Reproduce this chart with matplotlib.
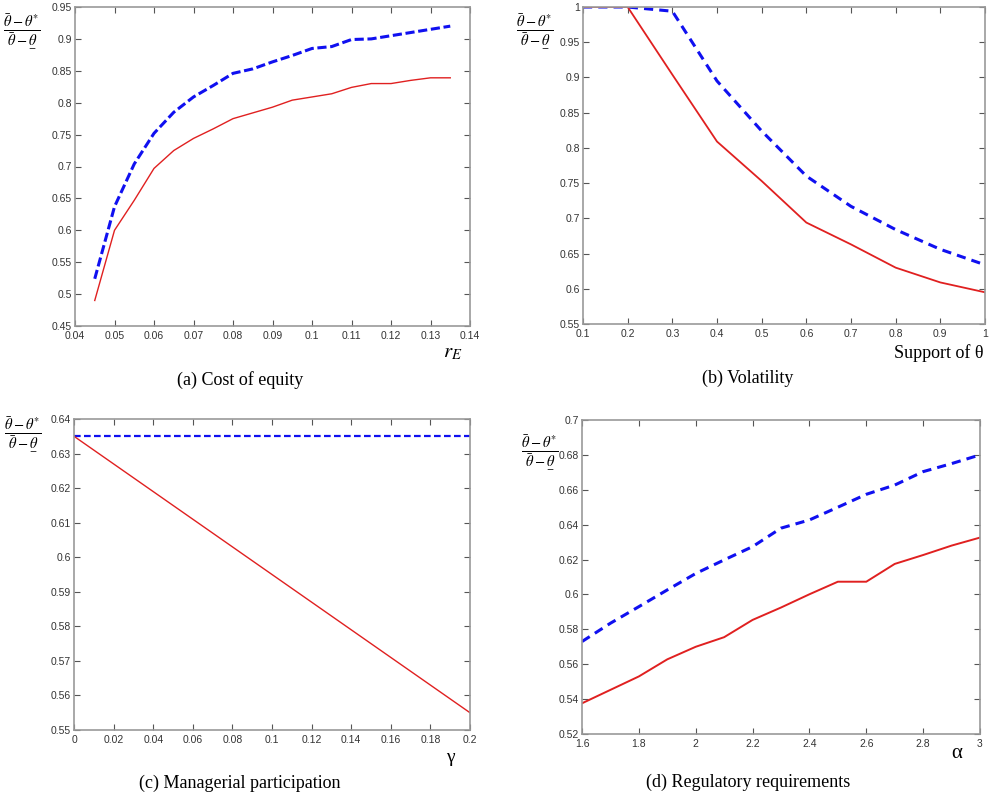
import matplotlib
matplotlib.use("Agg")
import matplotlib.pyplot as plt

plt.rcParams['font.family'] = ['Liberation Sans', 'DejaVu Sans']
plt.rcParams['mathtext.fontset'] = 'stix'

# (a) cost of equity
r_e = [0.045, 0.05, 0.055, 0.06, 0.065, 0.07, 0.075, 0.08, 0.085, 0.09,
       0.095, 0.1, 0.105, 0.11, 0.115, 0.12, 0.125, 0.13, 0.135]
a_blue = [0.524, 0.637, 0.704, 0.752, 0.785, 0.809, 0.827, 0.846, 0.853, 0.864,
          0.874, 0.885, 0.888, 0.899, 0.900, 0.905, 0.910, 0.915, 0.920]
a_red = [0.490, 0.600, 0.647, 0.697, 0.725, 0.744, 0.759, 0.775, 0.784, 0.793,
         0.804, 0.809, 0.814, 0.824, 0.830, 0.830, 0.835, 0.839, 0.839]

# (b) volatility
support = [0.1, 0.2, 0.3, 0.4, 0.5, 0.6, 0.7, 0.8, 0.9, 1.0]
b_blue = [1.0, 1.0, 0.994, 0.895, 0.824, 0.760, 0.717, 0.684, 0.656, 0.634]
b_red = [1.0, 1.0, 0.904, 0.809, 0.753, 0.694, 0.663, 0.630, 0.609, 0.595]

# (c) managerial participation
gamma = [0, 0.02, 0.04, 0.06, 0.08, 0.1, 0.12, 0.14, 0.16, 0.18, 0.2]
c_blue = [0.635] * 11
c_red = [0.635, 0.627, 0.619, 0.611, 0.603, 0.595, 0.587, 0.579, 0.571, 0.563, 0.555]

# (d) regulatory requirements
alpha = [1.6, 1.7, 1.8, 1.9, 2.0, 2.1, 2.2, 2.3, 2.4, 2.5, 2.6, 2.7, 2.8, 2.9, 3.0]
d_blue = [0.573, 0.5835, 0.593, 0.6026, 0.612, 0.6198, 0.6274, 0.638, 0.6427,
          0.650, 0.6574, 0.6627, 0.6704, 0.675, 0.680]
d_red = [0.5376, 0.5453, 0.553, 0.5628, 0.570, 0.5755, 0.5854, 0.5925, 0.6001,
         0.6073, 0.6073, 0.6175, 0.6226, 0.628, 0.6326]

ylab = r'$\frac{\bar{\theta}-\theta^{*}}{\bar{\theta}-\underset{-}{\theta}}$'

W, H = 989, 800
fig = plt.figure(figsize=(W / 100, H / 100), dpi=100)


def px_axes(l, t, r, b):
    return fig.add_axes([l / W, 1 - b / H, (r - l) / W, (b - t) / H])


def style(ax, xlim, ylim, xticks, yticks, xlabs, ylabs):
    ax.set_xlim(xlim)
    ax.set_ylim(ylim)
    ax.set_xticks(xticks)
    ax.set_yticks(yticks)
    ax.set_xticklabels(xlabs)
    ax.set_yticklabels(ylabs)
    ax.tick_params(direction='in', top=True, right=True, length=4, width=0.8,
                   labelsize=7.5, pad=2, color='#555555', labelcolor='#333333')
    ax.tick_params(axis='x', pad=3.5)
    for s in ax.spines.values():
        s.set_color('#999999')
        s.set_linewidth(1.2)


def fmt(vals):
    return [('%g' % v) for v in vals]


red = '#e02020'
blue = '#1010f0'

# (a)
ax = px_axes(75, 7, 470, 326)
ax.plot(r_e, a_blue, '--', color=blue, lw=2.2, dashes=(3, 1.2))
ax.plot(r_e, a_red, '-', color=red, lw=1.0)
xt = [0.04, 0.05, 0.06, 0.07, 0.08, 0.09, 0.1, 0.11, 0.12, 0.13, 0.14]
yt = [0.45, 0.5, 0.55, 0.6, 0.65, 0.7, 0.75, 0.8, 0.85, 0.9, 0.95]
style(ax, (0.04, 0.14), (0.45, 0.95), xt, yt, fmt(xt), fmt(yt))

# (b)
ax = px_axes(583, 7, 985, 324)
ax.plot(support, b_blue, '--', color=blue, lw=2.2, dashes=(3, 2))
ax.plot(support, b_red, '-', color=red, lw=1.3)
xt = [0.1, 0.2, 0.3, 0.4, 0.5, 0.6, 0.7, 0.8, 0.9, 1.0]
yt = [0.55, 0.6, 0.65, 0.7, 0.75, 0.8, 0.85, 0.9, 0.95, 1.0]
style(ax, (0.1, 1.0), (0.55, 1.0), xt, yt, fmt(xt), fmt(yt))

# (c)
ax = px_axes(74, 419, 470, 730)
ax.plot(gamma, c_blue, '--', color=blue, lw=1.6, dashes=(3, 1.5))
ax.plot(gamma, c_red, '-', color=red, lw=1.0)
xt = [0, 0.02, 0.04, 0.06, 0.08, 0.1, 0.12, 0.14, 0.16, 0.18, 0.2]
yt = [0.55, 0.56, 0.57, 0.58, 0.59, 0.6, 0.61, 0.62, 0.63, 0.64]
style(ax, (0, 0.2), (0.55, 0.64), xt, yt, fmt(xt), fmt(yt))

# (d)
ax = px_axes(582, 420, 980, 734)
ax.plot(alpha, d_blue, '--', color=blue, lw=2.2, dashes=(3, 2))
ax.plot(alpha, d_red, '-', color=red, lw=1.4)
xt = [1.6, 1.8, 2.0, 2.2, 2.4, 2.6, 2.8, 3.0]
yt = [0.52, 0.54, 0.56, 0.58, 0.6, 0.62, 0.64, 0.66, 0.68, 0.7]
style(ax, (1.6, 3.0), (0.52, 0.7), xt, yt, fmt(xt), fmt(yt))

# y labels (fractions)
for x, y in [(22, 31), (535, 31), (23, 434), (540, 452)]:
    fig.text(x / W, 1 - y / H, ylab, ha='center', va='center', fontsize=15,
             weight='bold')

# x labels
serif = ['Liberation Serif', 'DejaVu Serif']
fig.text(453 / W, 1 - 353 / H, r'$r_E$', ha='center', va='center', fontsize=15)
fig.text(983 / W, 1 - 353 / H, 'Support of θ', ha='right', va='center',
         fontsize=13, family=serif)
fig.text(450 / W, 1 - 757 / H, 'γ', ha='center', va='center', fontsize=14, family=serif)
fig.text(957 / W, 1 - 753 / H, 'α', ha='center', va='center', fontsize=15, family=serif)

# captions
fig.text(240 / W, 1 - 380 / H, '(a) Cost of equity', ha='center', va='center',
         fontsize=13, family=serif)
fig.text(748 / W, 1 - 378 / H, '(b) Volatility', ha='center', va='center',
         fontsize=13, family=serif)
fig.text(240 / W, 1 - 783 / H, '(c) Managerial participation', ha='center',
         va='center', fontsize=13, family=serif)
fig.text(748 / W, 1 - 782 / H, '(d) Regulatory requirements', ha='center',
         va='center', fontsize=13, family=serif)

fig.savefig('out.png', dpi=100)
